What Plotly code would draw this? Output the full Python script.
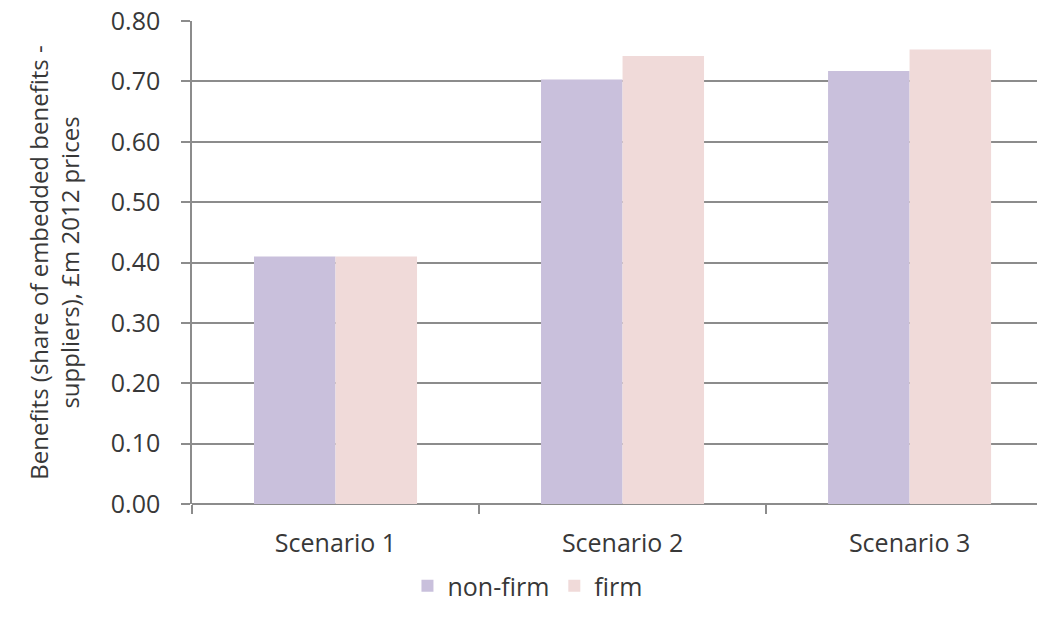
import plotly.graph_objects as go

# Benefits by scenario, £m 2012 prices
scenarios = ["Scenario 1", "Scenario 2", "Scenario 3"]
non_firm = [0.41, 0.703, 0.717]
firm = [0.41, 0.742, 0.753]
y_ticks = [0.0, 0.1, 0.2, 0.3, 0.4, 0.5, 0.6, 0.7, 0.8]
y_tick_labels = [f"{v:.2f}" for v in y_ticks]

FONT = "Open Sans"
TEXT = "#383838"
GRID = "#8c8c8c"

fig = go.Figure()
fig.add_trace(go.Bar(name="non-firm", x=scenarios, y=non_firm,
                     marker=dict(color="#c9c0dc", line=dict(width=0))))
fig.add_trace(go.Bar(name="firm", x=scenarios, y=firm,
                     marker=dict(color="#f0dad9", line=dict(width=0))))

fig.update_layout(
    width=1037, height=619,
    margin=dict(l=192, r=0, t=21, b=115, autoexpand=False),
    paper_bgcolor="white", plot_bgcolor="white",
    barmode="group", bargap=0.432, bargroupgap=0,
    font=dict(family=FONT, size=25, color=TEXT),
    legend=dict(orientation="h", x=0.397, xanchor="center",
                y=-0.17, yanchor="middle",
                font=dict(family=FONT, size=25, color=TEXT),
                itemwidth=30, bgcolor="rgba(0,0,0,0)"),
    showlegend=True,
)

fig.update_xaxes(
    range=[-0.5, 2.444], type="category",
    showline=False, showgrid=False, zeroline=False,
    ticks="outside", tickson="boundaries", ticklen=9, tickcolor=GRID,
    tickwidth=1.5, ticklabelstandoff=22,
    tickfont=dict(family=FONT, size=25, color=TEXT),
)
fig.update_yaxes(
    range=[0, 0.8], tickvals=y_ticks, ticktext=y_tick_labels,
    showline=True, linecolor=GRID, linewidth=1.5,
    showgrid=True, gridcolor=GRID, gridwidth=1.5,
    zeroline=True, zerolinecolor=GRID, zerolinewidth=1.5,
    ticks="outside", ticklen=9, tickcolor=GRID, tickwidth=1.5,
    ticklabelstandoff=16,
    tickfont=dict(family=FONT, size=25, color=TEXT),
    title=dict(text="Benefits (share of embedded benefits -<br>suppliers), £m 2012 prices",
               font=dict(family=FONT, size=24, color=TEXT), standoff=24),
)

fig.write_html("out.html")
